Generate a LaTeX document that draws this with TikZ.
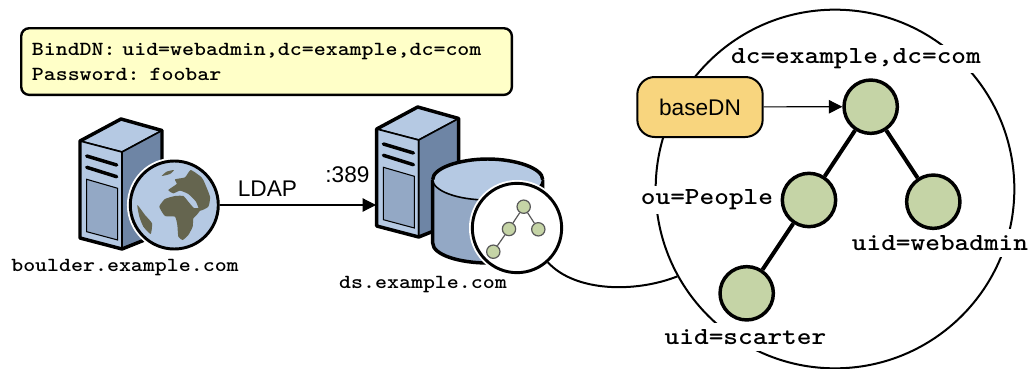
\documentclass[tikz,border=0pt]{standalone}
\usepackage{fontspec}
\setmainfont{Liberation Sans}
\newfontfamily\labelmono[Extension=.otf,FakeStretch=1.14]{lmmonolt10-bold}
\usetikzlibrary{arrows.meta}
\definecolor{topblue}{RGB}{181,201,227}
\definecolor{sideblue}{RGB}{110,133,165}
\definecolor{panelblue}{RGB}{147,168,197}
\definecolor{landolive}{RGB}{101,101,79}
\definecolor{leafgreen}{RGB}{197,212,166}
\definecolor{noteyellow}{RGB}{255,255,200}
\definecolor{tagorange}{RGB}{248,213,126}
\tikzset{
  hostlabel/.style={inner sep=0pt,font=\labelmono\fontsize{15}{18.75}\selectfont},
  entrylabel/.style={fill=white,inner xsep=0pt,inner ysep=0pt,minimum height=21pt,font=\labelmono\fontsize{18.4}{22}\selectfont},
  sanslabel/.style={inner sep=0pt,font=\fontsize{17}{20}\selectfont},
  entry/.style={circle,draw=black,line width=2.6pt,fill=leafgreen,minimum size=40pt,inner sep=0pt},
  tinyentry/.style={circle,draw=black!65,line width=0.9pt,fill=leafgreen,minimum size=10pt,inner sep=0pt},
  halo/.style={circle,draw=black,line width=2.2pt,inner sep=0pt,preaction={draw=white,line width=5pt}},
  flow/.style={draw=black,line width=0.9pt,-{Triangle[length=10pt,width=10pt]}},
  servertower/.pic={
    %Shape: Top
    \draw [fill=topblue,line width=1.2pt,line join=round] (0,0) -- (41,-22) -- (82,-10.5) -- (42,11) -- cycle ;
    %Shape: Front
    \draw [fill=topblue,line width=1.2pt,line join=round] (0,0) -- (42,11) -- (42,108) -- (0,97) -- cycle ;
    %Shape: Side
    \draw [fill=sideblue,line width=1.2pt,line join=round] (42,11) -- (82,-10.5) -- (82,92) -- (42,108) -- cycle ;
    %Shape: Outline
    \draw [line width=2.6pt,line join=round] (0,0) -- (41,-22) -- (82,-10.5) -- (82,92) -- (42,108) -- (0,97) -- cycle ;
    %Shape: Slots
    \draw [line width=2.6pt,line cap=round] (6.7,15) -- (36.7,24) ;
    \draw [line width=2.6pt,line cap=round] (6.7,26.3) -- (36.7,35.7) ;
    %Shape: Panel
    \draw [fill=panelblue,line width=0.8pt] (6.7,38.3) -- (37.7,47.3) -- (37.7,99) -- (6.7,90.7) -- cycle ;
  },
}

\begin{document}
\begin{tikzpicture}[x=0.75pt,y=0.75pt,yscale=-1,xscale=1]
\useasboundingbox (0,0) rectangle (1036,368);

%Note box
\draw (20,27) node (bindnote) [anchor=north west,draw=black,line width=1.8pt,rounded corners=6pt,fill=noteyellow,minimum width=368pt,minimum height=50pt,text width=352pt,align=left,hostlabel,inner xsep=8pt] {BindDN: uid=webadmin,dc=example,dc=com\\Password: foobar};

%Client machine
\pic [transform shape] at (80,141) {servertower};
\draw (174.3,205) node (globe) [halo,fill=topblue,minimum size=66pt] {};
\begin{scope}[shift={(60,90)},scale=1/3]
\fill [landolive] plot [smooth cycle,tension=0.3] coordinates {(298,350) (315,327) (345,318) (370,318) (385,335) (402,354) (425,354) (410,375) (400,385) (398,410) (385,435) (368,450) (355,440) (352,405) (345,380) (315,378)};
\fill [landolive] plot [smooth cycle,tension=0.3] coordinates {(325,300) (350,282) (345,268) (375,262) (392,240) (420,258) (430,270) (450,320) (445,350) (420,362) (408,335) (385,312) (360,302) (340,310)};
\fill [landolive] plot [smooth cycle,tension=0.3] coordinates {(305,258) (320,245) (342,240) (330,252)};
\fill [landolive] plot [smooth cycle,tension=0.3] coordinates {(232,345) (255,375) (276,400) (272,432) (250,410) (238,380)};
\end{scope}
\draw (125,268) node (clientname) [hostlabel] {boulder.example.com};

%Directory server
\pic [transform shape] at (376.7,129) {servertower};
\coordinate (dsedge) at (376,205);
%Shape: Can
\draw [fill=panelblue,line width=2.6pt] (432.7,179.5) -- (432.7,243) .. controls (432.7,255) and (460,263) .. (487.7,263) .. controls (515,263) and (542.7,255) .. (542.7,243) -- (542.7,179.5) ;
\draw [fill=topblue,line width=1.2pt] (487.7,179.5) ellipse (55 and 20.5);
\draw [line width=2.6pt] (432.7,179.5) .. controls (432.7,168) and (460,159) .. (487.7,159) .. controls (515,159) and (542.7,168) .. (542.7,179.5) ;
\draw (517,228) node (treebadge) [halo,fill=white,minimum size=67pt] {};
\draw (523.7,206.7) node (tinyroot) [tinyentry] {};
\draw (509,229) node (tinypeople) [tinyentry] {};
\draw (538.3,229.3) node (tinyadmin) [tinyentry] {};
\draw (493.3,251.7) node (tinyscarter) [tinyentry] {};
\draw [line width=0.9pt,draw=black!65] (tinyroot) -- (tinypeople) ;
\draw [line width=0.9pt,draw=black!65] (tinyroot) -- (tinyadmin) ;
\draw [line width=0.9pt,draw=black!65] (tinypeople) -- (tinyscarter) ;
\draw (423,285) node (servername) [hostlabel] {ds.example.com};

%LDAP link
\draw [flow] (globe) -- (dsedge) ;
\draw (267.5,189) node (ldaplabel) [sanslabel] {LDAP};
\draw (347.5,175) node (portlabel) [sanslabel] {:389};

%Enlarged tree
\draw (835,189) node (treezoom) [circle,draw=black,line width=1.5pt,minimum size=269pt,inner sep=0pt] {};
\draw [line width=1.5pt] (treebadge.-48) .. controls (575,292) and (635,293) .. (treezoom.209) ;
\draw (856,59) node (rootlabel) [entrylabel] {dc=example,dc=com};
\draw (707,200) node (peoplelabel) [entrylabel] {ou=People};
\draw (940,243) node (adminlabel) [entrylabel] {uid=webadmin};
\draw (745.5,337) node (scarterlabel) [entrylabel] {uid=scarter};
\draw (700,107) node (basedn) [draw=black,line width=1.5pt,rounded corners=13pt,fill=tagorange,minimum width=94pt,minimum height=45pt,sanslabel] {baseDN};
\draw (870.7,106.7) node (rootentry) [entry] {};
\draw (809,200) node (peopleentry) [entry] {};
\draw (933.3,201.7) node (adminentry) [entry] {};
\draw (746.7,293.3) node (scarterentry) [entry] {};
\draw [flow] (basedn) -- (rootentry) ;
\draw [line width=3pt] (rootentry) -- (peopleentry) ;
\draw [line width=3pt] (rootentry) -- (adminentry) ;
\draw [line width=3pt] (peopleentry) -- (scarterentry) ;

\end{tikzpicture}
\end{document}
